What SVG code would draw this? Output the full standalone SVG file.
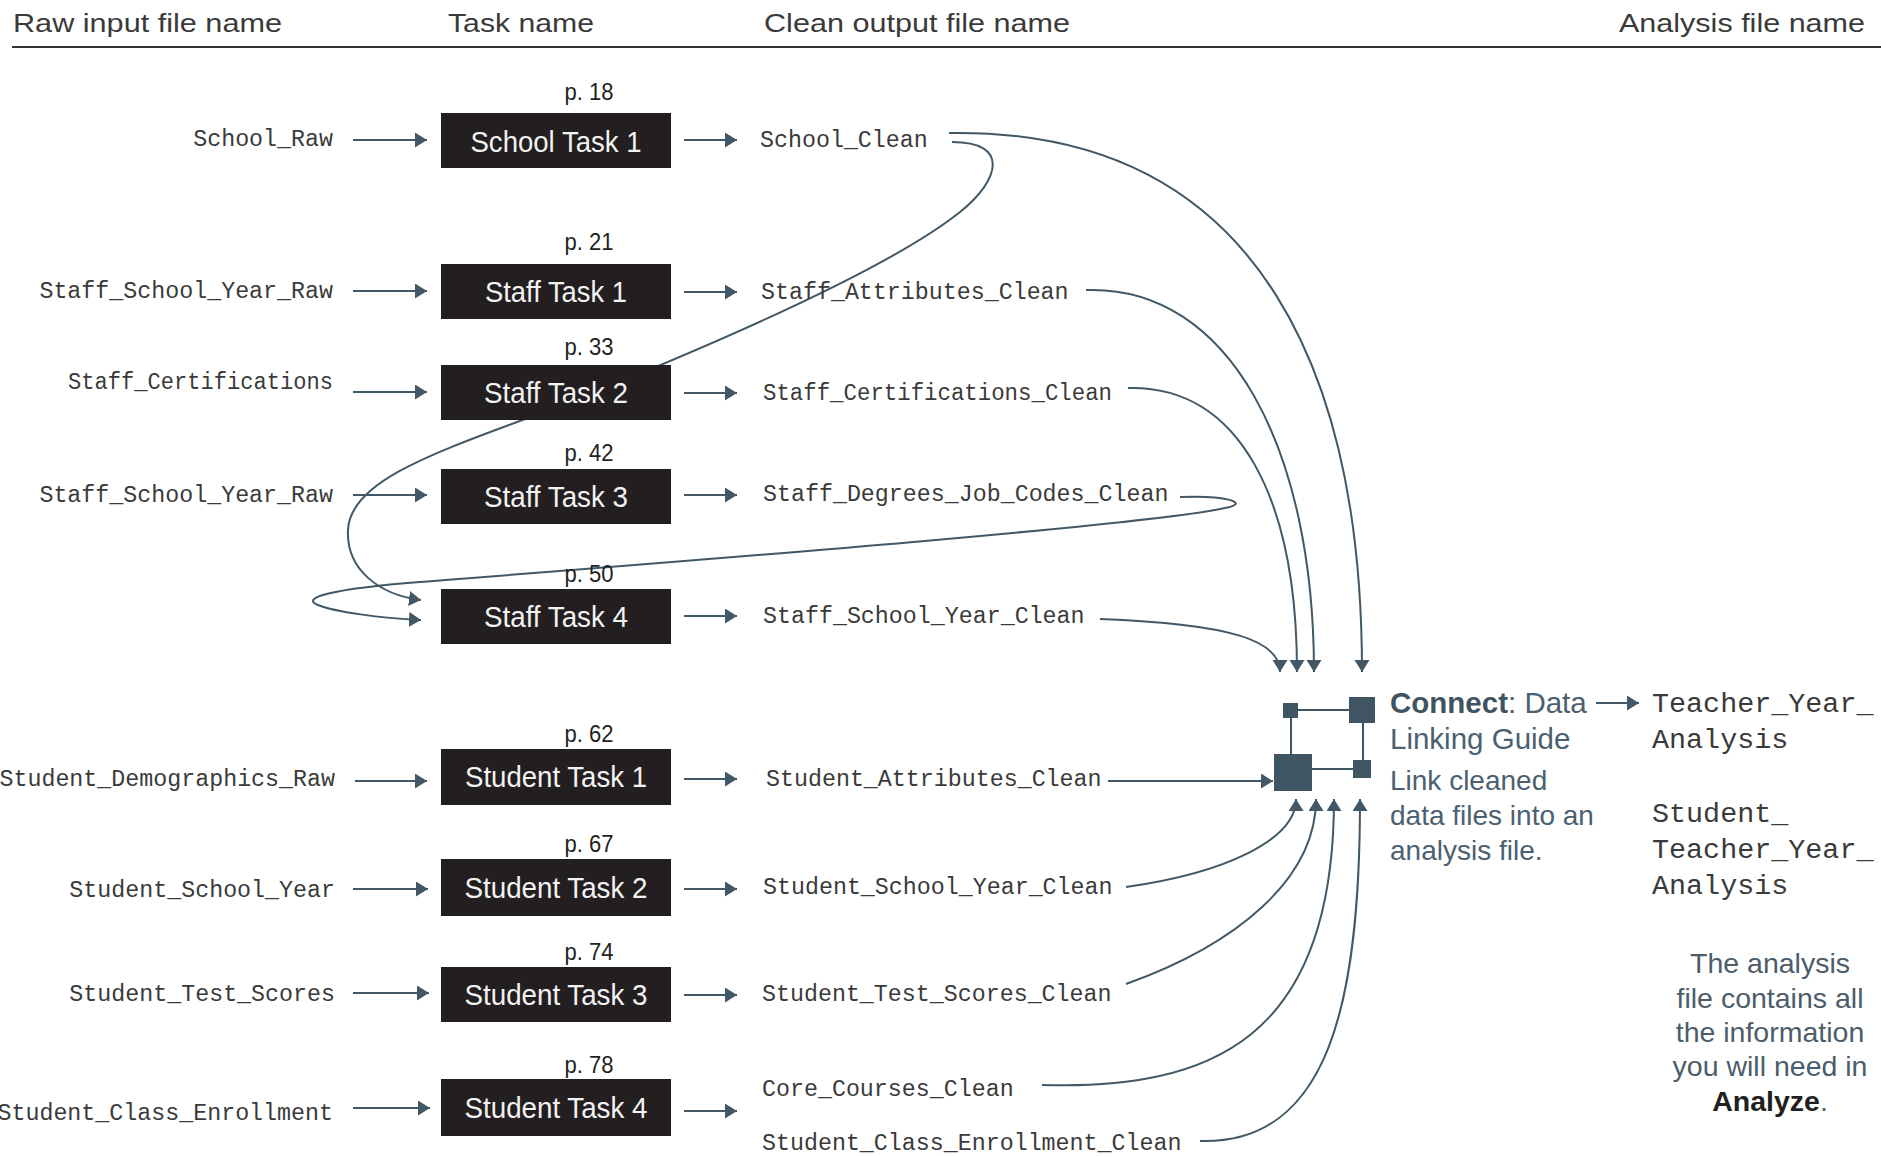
<svg xmlns="http://www.w3.org/2000/svg" width="1881" height="1156" viewBox="0 0 1881 1156">
<defs>
<style>
.hdr{font-family:"Liberation Sans",Arial,sans-serif;font-size:25px;fill:#3a3a3a}
.mono{font-family:"Liberation Mono","Courier New",monospace;font-size:23.3px;fill:#3a3a3a}
.amono{font-family:"Liberation Mono","Courier New",monospace;font-size:28.4px;fill:#3a3a3a}
.box{fill:#231f20}
.tt{font-family:"Liberation Sans",Arial,sans-serif;font-size:30px;fill:#f2f2f2;text-anchor:middle}
.pg{font-family:"Liberation Sans",Arial,sans-serif;font-size:23px;fill:#231f20;text-anchor:middle}
.ln{fill:none;stroke:#425866;stroke-width:2}
.sq{fill:#3f5563}
.ct{font-family:"Liberation Sans",Arial,sans-serif;font-size:29.5px;fill:#4b6070}
.cd{font-family:"Liberation Sans",Arial,sans-serif;font-size:28px;fill:#4b6070}
.note{font-family:"Liberation Sans",Arial,sans-serif;font-size:28.5px;fill:#4b5d6b;text-anchor:middle}
</style>
<marker id="ah" markerUnits="userSpaceOnUse" markerWidth="13" markerHeight="16" refX="12" refY="7.5" orient="auto">
<path d="M0,0 L12,7.5 L0,15 z" fill="#425866"/>
</marker>
</defs>
<rect width="1881" height="1156" fill="#fff"/>

<g id="header">
<text class="hdr" x="13" y="32" textLength="269" lengthAdjust="spacingAndGlyphs">Raw input file name</text>
<text class="hdr" x="448" y="32" textLength="146" lengthAdjust="spacingAndGlyphs">Task name</text>
<text class="hdr" x="764" y="32" textLength="306" lengthAdjust="spacingAndGlyphs">Clean output file name</text>
<text class="hdr" x="1619" y="32" textLength="246" lengthAdjust="spacingAndGlyphs">Analysis file name</text>
<path d="M12 47 H1881" stroke="#333" stroke-width="2"/>
</g>

<g id="connectors">
<path class="ln" marker-end="url(#ah)" d="M353 140 H427"/>
<path class="ln" marker-end="url(#ah)" d="M353 291 H427"/>
<path class="ln" marker-end="url(#ah)" d="M353 392 H427"/>
<path class="ln" marker-end="url(#ah)" d="M353 495 H427"/>
<path class="ln" marker-end="url(#ah)" d="M355 781 H427"/>
<path class="ln" marker-end="url(#ah)" d="M353 889 H428"/>
<path class="ln" marker-end="url(#ah)" d="M353 993 H429"/>
<path class="ln" marker-end="url(#ah)" d="M353 1108 H430"/>

<path class="ln" marker-end="url(#ah)" d="M684 140 H737"/>
<path class="ln" marker-end="url(#ah)" d="M684 292 H737"/>
<path class="ln" marker-end="url(#ah)" d="M684 393 H737"/>
<path class="ln" marker-end="url(#ah)" d="M684 495 H737"/>
<path class="ln" marker-end="url(#ah)" d="M684 616 H737"/>
<path class="ln" marker-end="url(#ah)" d="M684 779 H737"/>
<path class="ln" marker-end="url(#ah)" d="M684 889 H737"/>
<path class="ln" marker-end="url(#ah)" d="M684 995 H737"/>
<path class="ln" marker-end="url(#ah)" d="M684 1111 H737"/>

<path class="ln" marker-end="url(#ah)" d="M949 133 C1270 128 1362 390 1362 672"/>
<path class="ln" marker-end="url(#ah)" d="M952 142 C1010 142 1000 180 960 212 C900 260 760 325 600 390 C480 440 350 470 348 530 C346 570 380 595 421 600"/>
<path class="ln" marker-end="url(#ah)" d="M1180 497 C1225 495 1252 503 1225 508 C1150 525 700 560 420 582 C330 589 300 598 318 605 C335 612 380 618 421 620"/>
<path class="ln" marker-end="url(#ah)" d="M1086 290 C1230 285 1314 450 1314 672"/>
<path class="ln" marker-end="url(#ah)" d="M1128 388 C1240 385 1297 500 1297 672"/>
<path class="ln" marker-end="url(#ah)" d="M1100 619 C1230 624 1280 640 1280 672"/>

<path class="ln" marker-end="url(#ah)" d="M1108 781 H1273"/>
<path class="ln" marker-end="url(#ah)" d="M1126 887 C1225 873 1296 840 1296 799"/>
<path class="ln" marker-end="url(#ah)" d="M1126 984 C1235 945 1316 880 1316 799"/>
<path class="ln" marker-end="url(#ah)" d="M1042 1085 C1210 1090 1334 1040 1334 799"/>
<path class="ln" marker-end="url(#ah)" d="M1200 1141 C1330 1145 1360 1000 1360 799"/>

<path class="ln" marker-end="url(#ah)" d="M1596 703 H1639"/>
</g>

<g id="raw-inputs">
<text class="mono" x="333" y="146" text-anchor="end">School_Raw</text>
<text class="mono" x="333" y="298" text-anchor="end">Staff_School_Year_Raw</text>
<text class="mono" x="333" y="389" text-anchor="end" textLength="265" lengthAdjust="spacingAndGlyphs">Staff_Certifications</text>
<text class="mono" x="333" y="502" text-anchor="end">Staff_School_Year_Raw</text>
<text class="mono" x="335" y="786" text-anchor="end">Student_Demographics_Raw</text>
<text class="mono" x="335" y="897" text-anchor="end">Student_School_Year</text>
<text class="mono" x="335" y="1001" text-anchor="end">Student_Test_Scores</text>
<text class="mono" x="333" y="1120" text-anchor="end">Student_Class_Enrollment</text>
</g>

<g id="school-task-1">
<text class="pg" x="589" y="100" textLength="49" lengthAdjust="spacingAndGlyphs">p. 18</text>
<rect class="box" x="441" y="113" width="230" height="55"/>
<text class="tt" x="556" y="152" textLength="171" lengthAdjust="spacingAndGlyphs">School Task 1</text>
</g>
<g id="staff-task-1">
<text class="pg" x="589" y="250" textLength="49" lengthAdjust="spacingAndGlyphs">p. 21</text>
<rect class="box" x="441" y="264" width="230" height="55"/>
<text class="tt" x="556" y="302" textLength="142" lengthAdjust="spacingAndGlyphs">Staff Task 1</text>
</g>
<g id="staff-task-2">
<text class="pg" x="589" y="355" textLength="49" lengthAdjust="spacingAndGlyphs">p. 33</text>
<rect class="box" x="441" y="365" width="230" height="55"/>
<text class="tt" x="556" y="403" textLength="144" lengthAdjust="spacingAndGlyphs">Staff Task 2</text>
</g>
<g id="staff-task-3">
<text class="pg" x="589" y="461" textLength="49" lengthAdjust="spacingAndGlyphs">p. 42</text>
<rect class="box" x="441" y="469" width="230" height="55"/>
<text class="tt" x="556" y="507" textLength="144" lengthAdjust="spacingAndGlyphs">Staff Task 3</text>
</g>
<g id="staff-task-4">
<text class="pg" x="589" y="582" textLength="49" lengthAdjust="spacingAndGlyphs">p. 50</text>
<rect class="box" x="441" y="589" width="230" height="55"/>
<text class="tt" x="556" y="627" textLength="144" lengthAdjust="spacingAndGlyphs">Staff Task 4</text>
</g>
<g id="student-task-1">
<text class="pg" x="589" y="742" textLength="49" lengthAdjust="spacingAndGlyphs">p. 62</text>
<rect class="box" x="441" y="749" width="230" height="56"/>
<text class="tt" x="556" y="787" textLength="182" lengthAdjust="spacingAndGlyphs">Student Task 1</text>
</g>
<g id="student-task-2">
<text class="pg" x="589" y="852" textLength="49" lengthAdjust="spacingAndGlyphs">p. 67</text>
<rect class="box" x="441" y="859" width="230" height="57"/>
<text class="tt" x="556" y="898" textLength="183" lengthAdjust="spacingAndGlyphs">Student Task 2</text>
</g>
<g id="student-task-3">
<text class="pg" x="589" y="960" textLength="49" lengthAdjust="spacingAndGlyphs">p. 74</text>
<rect class="box" x="441" y="967" width="230" height="55"/>
<text class="tt" x="556" y="1005" textLength="183" lengthAdjust="spacingAndGlyphs">Student Task 3</text>
</g>
<g id="student-task-4">
<text class="pg" x="589" y="1073" textLength="49" lengthAdjust="spacingAndGlyphs">p. 78</text>
<rect class="box" x="441" y="1079" width="230" height="57"/>
<text class="tt" x="556" y="1118" textLength="183" lengthAdjust="spacingAndGlyphs">Student Task 4</text>
</g>

<g id="clean-outputs">
<text class="mono" x="760" y="147">School_Clean</text>
<text class="mono" x="761" y="299">Staff_Attributes_Clean</text>
<text class="mono" x="763" y="400" textLength="349" lengthAdjust="spacingAndGlyphs">Staff_Certifications_Clean</text>
<text class="mono" x="763" y="501">Staff_Degrees_Job_Codes_Clean</text>
<text class="mono" x="763" y="623">Staff_School_Year_Clean</text>
<text class="mono" x="766" y="786">Student_Attributes_Clean</text>
<text class="mono" x="763" y="894">Student_School_Year_Clean</text>
<text class="mono" x="762" y="1001">Student_Test_Scores_Clean</text>
<text class="mono" x="762" y="1096">Core_Courses_Clean</text>
<text class="mono" x="762" y="1150">Student_Class_Enrollment_Clean</text>
</g>

<g id="connect">
<rect class="sq" x="1283" y="703" width="15" height="15"/>
<rect class="sq" x="1349" y="697" width="26" height="26"/>
<rect class="sq" x="1274" y="754" width="38" height="37"/>
<rect class="sq" x="1353" y="760" width="18" height="18"/>
<path d="M1298 710 H1349 M1291 718 V754 M1363 723 V760 M1312 769 H1353" stroke="#3f5563" stroke-width="2" fill="none"/>
<text class="ct" x="1390" y="713"><tspan font-weight="bold" fill="#3f5461">Connect</tspan>: Data</text>
<text class="ct" x="1390" y="749">Linking Guide</text>
<text class="cd" x="1390" y="790">Link cleaned</text>
<text class="cd" x="1390" y="825">data files into an</text>
<text class="cd" x="1390" y="860">analysis file.</text>
</g>

<g id="analysis-files">
<text class="amono" x="1652" y="712">Teacher_Year_</text>
<text class="amono" x="1652" y="748">Analysis</text>
<text class="amono" x="1652" y="822">Student_</text>
<text class="amono" x="1652" y="858">Teacher_Year_</text>
<text class="amono" x="1652" y="894">Analysis</text>
</g>

<g id="note">
<text class="note" x="1770" y="973">The analysis</text>
<text class="note" x="1770" y="1008">file contains all</text>
<text class="note" x="1770" y="1042">the information</text>
<text class="note" x="1770" y="1076">you will need in</text>
<text class="note" x="1770" y="1111"><tspan font-weight="bold" fill="#231f20">Analyze</tspan>.</text>
</g>
</svg>
